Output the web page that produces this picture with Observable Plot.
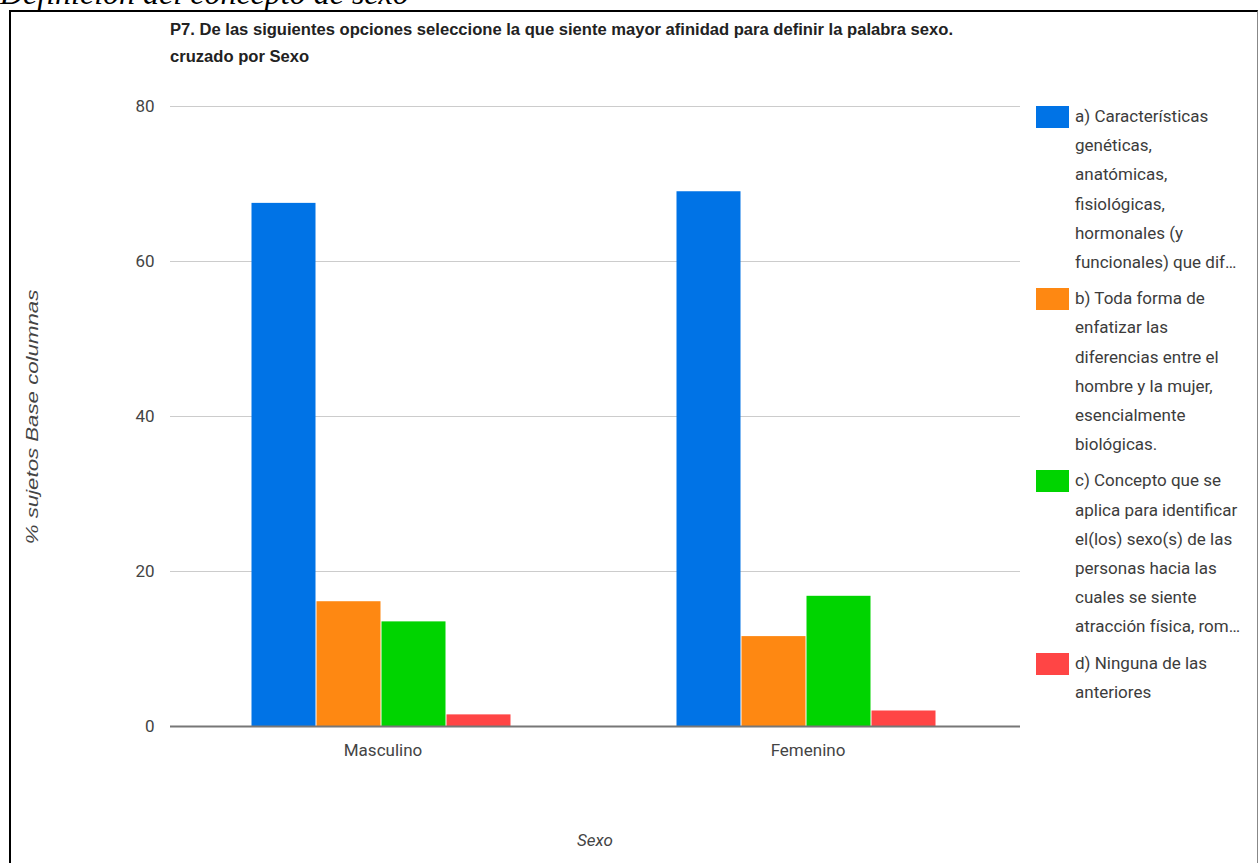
<!DOCTYPE html>
<html><head><meta charset="utf-8">
<script src="https://cdn.jsdelivr.net/npm/d3@7"></script>
<script src="https://cdn.jsdelivr.net/npm/@observablehq/plot@0.6"></script>
<style>
body{margin:0;background:#fff;}
#wrap{position:relative;width:1258px;height:863px;overflow:hidden;background:#fff;font-family:Roboto, sans-serif;}
#doc{position:absolute;left:0;top:-23px;font-family:"Liberation Serif","Times New Roman",serif;font-style:italic;font-size:32px;line-height:32px;color:#000;white-space:nowrap;}
#frame{position:absolute;left:9px;top:10px;width:1246px;height:900px;border-left:2px solid #000;border-top:2px solid #000;border-right:1px solid #888;background:transparent;}
#title{position:absolute;left:170px;top:16px;font-family:"Liberation Sans",Arial,sans-serif;font-weight:bold;font-size:16px;line-height:27px;color:#222;white-space:nowrap;transform-origin:0 0;}
#chart{position:absolute;left:0;top:0;}
#ylabel{position:absolute;left:33px;top:417px;transform:translate(-50%,-50%) rotate(-90deg);font-family:"Liberation Sans",Arial,sans-serif;font-style:italic;font-size:17px;color:#444;white-space:nowrap;}
#xlabel{position:absolute;left:595px;top:840px;transform:translate(-50%,-50%);font-style:italic;font-size:17px;color:#444;white-space:nowrap;}
#legend{position:absolute;left:1036px;top:102px;display:flex;flex-direction:column;gap:7px;}
.item{display:flex;align-items:flex-start;}
.sw{width:33px;height:22px;margin-top:4px;flex:none;}
.lt{margin-left:6px;font-size:17px;line-height:29.2px;color:#3c3c3c;white-space:nowrap;}
</style></head><body>
<div id="wrap">
 <div id="doc">Definición del concepto de sexo</div>
 <div id="frame"></div>
 <div id="title">P7. De las siguientes opciones seleccione la que siente mayor afinidad para definir la palabra sexo.<br>cruzado por Sexo</div>
 <div id="chart"></div>
 <div id="ylabel">% sujetos Base columnas</div>
 <div id="xlabel">Sexo</div>
 <div id="legend"></div>
</div>
<script>
const sexes = ["Masculino", "Femenino"];
const options = [
  "a) Características genéticas, anatómicas, fisiológicas, hormonales (y funcionales) que dif…",
  "b) Toda forma de enfatizar las diferencias entre el hombre y la mujer, esencialmente biológicas.",
  "c) Concepto que se aplica para identificar el(los) sexo(s) de las personas hacia las cuales se siente atracción física, rom…",
  "d) Ninguna de las anteriores"
];
const legendLines = [
  ["a) Características", "genéticas,", "anatómicas,", "fisiológicas,", "hormonales (y", "funcionales) que dif…"],
  ["b) Toda forma de", "enfatizar las", "diferencias entre el", "hombre y la mujer,", "esencialmente", "biológicas."],
  ["c) Concepto que se", "aplica para identificar", "el(los) sexo(s) de las", "personas hacia las", "cuales se siente", "atracción física, rom…"],
  ["d) Ninguna de las", "anteriores"]
];
const masculino = [67.5, 16.1, 13.5, 1.5];
const femenino = [69.0, 11.6, 16.8, 2.0];
const colors = ["#0073e6", "#fe8812", "#00d400", "#ff4545"];
const yTicks = [0, 20, 40, 60, 80];

const series = [masculino, femenino];
const data = sexes.flatMap((s, i) => options.map((o, j) => ({sexo: s, opcion: o, valor: series[i][j]})));

const chart = Plot.plot({
  width: 1258, height: 863,
  marginLeft: 170, marginRight: 238, marginTop: 106, marginBottom: 137,
  style: {fontFamily: "Roboto, sans-serif", fontSize: "16px", color: "#444", background: "transparent"},
  fx: {domain: sexes, padding: 0, label: null},
  x: {domain: options, paddingInner: 0.02, paddingOuter: 1.25, axis: null},
  y: {domain: [0, 80], axis: null},
  color: {domain: options, range: colors},
  marks: [
    Plot.gridY(yTicks.filter(d => d > 0), {stroke: "#cccccc", strokeOpacity: 1}),
    Plot.barY(data, {fx: "sexo", x: "opcion", y: "valor", fill: "opcion", dx: -1.5}),
    Plot.ruleY([0], {stroke: "#777", strokeWidth: 2}),
    Plot.axisY(yTicks, {anchor: "left", tickSize: 0, tickPadding: 16, label: null, fontSize: 17}),
    Plot.axisFx({anchor: "bottom", tickSize: 0, tickPadding: 17, label: null, fontSize: 17})
  ]
});
document.getElementById("chart").appendChild(chart);

const legend = document.getElementById("legend");
legendLines.forEach((lines, i) => {
  const item = document.createElement("div");
  item.className = "item";
  const sw = document.createElement("div");
  sw.className = "sw";
  sw.style.background = colors[i];
  const lt = document.createElement("div");
  lt.className = "lt";
  lt.innerHTML = lines.join("<br>");
  item.appendChild(sw); item.appendChild(lt);
  legend.appendChild(item);
});

const t = document.getElementById("title");
const w = t.getBoundingClientRect().width;
t.style.transform = `scaleX(${783 / w})`;

const yl = document.getElementById("ylabel");
const len = yl.offsetWidth;
yl.style.transform = `translate(-50%,-50%) rotate(-90deg) scaleX(${255 / len})`;
</script>
</body></html>
